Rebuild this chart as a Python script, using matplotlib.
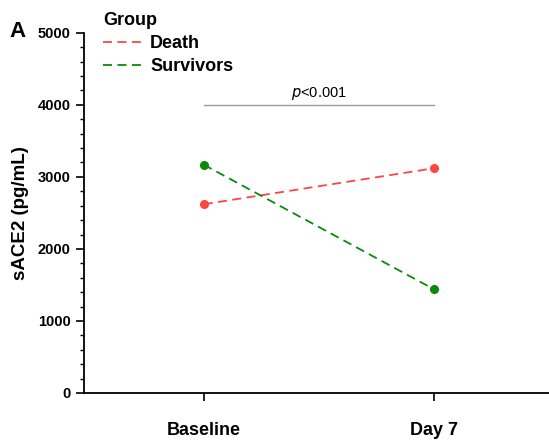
import matplotlib
matplotlib.use("Agg")
import matplotlib.pyplot as plt
from matplotlib.ticker import MultipleLocator

plt.rcParams["font.family"] = ["Liberation Sans", "DejaVu Sans"]

timepoints = ["Baseline", "Day 7"]
death = [2620, 3120]
survivors = [3170, 1440]
p_label = "$\\it{p}$<0.001"
p_height = 4000

x = [1, 2]

fig = plt.figure(figsize=(5.49, 4.44), dpi=100)
ax = fig.add_axes([0.153, 0.115, 0.847, 0.811])

red = "#ff4444"
green = "#0a8a0a"

l1, = ax.plot(x, death, color=red, lw=1.3, ls=(0, (5, 3)), label="Death")
l2, = ax.plot(x, survivors, color=green, lw=1.3, ls=(0, (5, 3)), label="Survivors")
ax.plot(x, death, "o", color=red, ms=5.5, ls="none")
ax.plot(x, survivors, "o", color=green, ms=5.5, ls="none")

# significance bar
ax.plot(x, [p_height, p_height], color="#999999", lw=1)
ax.text(1.5, p_height + 40, p_label, ha="center", va="bottom", fontsize=10.5)

ax.set_xlim(0.48, 2.5)
ax.set_ylim(0, 5000)
ax.set_xticks(x)
ax.set_xticklabels(timepoints, fontsize=13, fontweight="bold")
ax.yaxis.set_major_locator(MultipleLocator(1000))
ax.yaxis.set_minor_locator(MultipleLocator(200))
for lab in ax.get_yticklabels():
    lab.set_fontweight("bold")
    lab.set_fontsize(10.5)
ax.tick_params(axis="x", length=6, width=1.2, pad=15)
ax.tick_params(axis="y", which="major", length=6, width=1.2)
ax.tick_params(axis="y", which="minor", length=3, width=1)
ax.spines["top"].set_visible(False)
ax.spines["right"].set_visible(False)
ax.spines["left"].set_linewidth(1.3)
ax.spines["bottom"].set_linewidth(1.3)
ax.set_ylabel("sACE2 (pg/mL)", fontsize=13.5, fontweight="bold", labelpad=6)

leg = fig.legend(handles=[l1, l2], loc="upper left", bbox_to_anchor=(0.175, 0.99),
                 frameon=False, fontsize=13, title="Group",
                 title_fontproperties={"weight": "bold", "size": 13},
                 handlelength=2.2, handletextpad=0.4, labelspacing=0.35,
                 borderaxespad=0)
leg._legend_box.align = "left"
for t in leg.get_texts():
    t.set_fontweight("bold")

fig.text(0.018, 0.93, "A", fontsize=16, fontweight="bold", va="center")

fig.savefig("out.png", dpi=100)
